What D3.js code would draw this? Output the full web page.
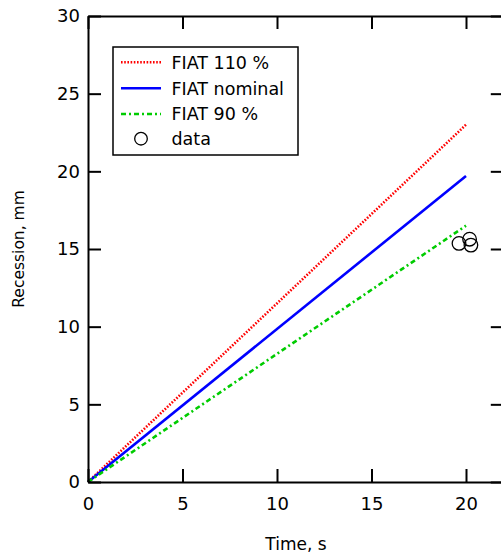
<!DOCTYPE html>
<html>
<head>
<meta charset="utf-8">
<script src="https://cdn.jsdelivr.net/npm/d3@7"></script>
<style>
  html, body { margin: 0; padding: 0; background: #fff; }
  svg { display: block; }
  text { font-family: "DejaVu Sans", sans-serif; fill: #000; }
</style>
</head>
<body>
<svg id="chart" width="501" height="554"></svg>
<script>
// Model curves: recession vs time (start and end points of each straight line)
const timeEnds = [0, 20];
const fiat110 = [0, 23.0];
const fiatNominal = [0, 19.7];
const fiat90 = [0, 16.5];

// Measured recession at end of test
const dataTime = [19.63, 20.19, 20.26];
const dataRecession = [15.36, 15.63, 15.25];

const xTicks = [0, 5, 10, 15, 20];
const yTicks = [0, 5, 10, 15, 20, 25, 30];

const series = [
  { name: "FIAT 110 %", values: fiat110, color: "#ff0000", dash: "1.6,1.6", width: 2.6 },
  { name: "FIAT nominal", values: fiatNominal, color: "#0000ff", dash: null, width: 2.6 },
  { name: "FIAT 90 %", values: fiat90, color: "#00cc00", dash: "5,3,2,3", width: 2.6 }
];

const svg = d3.select("#chart");
const x = d3.scaleLinear().domain([0, 22]).range([88, 503.8]);
const y = d3.scaleLinear().domain([0, 30]).range([482, 16]);

const tickLen = 13;

// Lines
const line = d3.line().x(d => x(d[0])).y(d => y(d[1]));
series.forEach(s => {
  const pts = timeEnds.map((t, i) => [t, s.values[i]]);
  svg.append("path")
    .attr("d", line(pts))
    .attr("fill", "none")
    .attr("stroke", s.color)
    .attr("stroke-width", s.width)
    .attr("stroke-dasharray", s.dash);
});

// Data points
svg.append("g").selectAll("circle")
  .data(dataTime.map((t, i) => [t, dataRecession[i]]))
  .join("circle")
  .attr("cx", d => x(d[0]))
  .attr("cy", d => y(d[1]))
  .attr("r", 6.8)
  .attr("fill", "none")
  .attr("stroke", "#000")
  .attr("stroke-width", 1.3);

// Axes: ticks point inward on all four sides
const axisStyle = g => {
  g.selectAll(".domain").attr("stroke", "#000").attr("stroke-width", 2);
  g.selectAll(".tick line").attr("stroke", "#000").attr("stroke-width", 2);
  g.selectAll(".tick text")
    .style("font-family", "'DejaVu Sans', sans-serif")
    .style("font-size", "18px")
    .attr("fill", "#000");
};

svg.append("g")
  .attr("transform", `translate(0,${y(0)})`)
  .call(d3.axisBottom(x).tickValues(xTicks).tickSizeInner(-tickLen).tickSizeOuter(0).tickPadding(15))
  .call(axisStyle);

svg.append("g")
  .attr("transform", `translate(0,${y(30)})`)
  .call(d3.axisTop(x).tickValues(xTicks).tickSizeInner(-tickLen).tickSizeOuter(0).tickFormat(""))
  .call(axisStyle);

svg.append("g")
  .attr("transform", `translate(${x(0)},0)`)
  .call(d3.axisLeft(y).tickValues(yTicks).tickSizeInner(-tickLen).tickSizeOuter(0).tickPadding(8))
  .call(axisStyle);

svg.append("g")
  .attr("transform", `translate(${x(22)},0)`)
  .call(d3.axisRight(y).tickValues(yTicks).tickSizeInner(-tickLen).tickSizeOuter(0).tickFormat(""))
  .call(axisStyle);

// Axis titles
svg.append("text")
  .attr("x", 296).attr("y", 550)
  .attr("text-anchor", "middle")
  .style("font-size", "17px")
  .text("Time, s");

svg.append("text")
  .attr("transform", "translate(24,249) rotate(-90)")
  .attr("text-anchor", "middle")
  .style("font-size", "15.5px")
  .text("Recession, mm");

// Legend
const legend = svg.append("g");
legend.append("rect")
  .attr("x", 113).attr("y", 47)
  .attr("width", 185).attr("height", 108)
  .attr("fill", "#fff")
  .attr("stroke", "#000")
  .attr("stroke-width", 1.5);

const rowY = [62.3, 88.3, 114, 138.7];
series.forEach((s, i) => {
  legend.append("line")
    .attr("x1", 121).attr("x2", 161)
    .attr("y1", rowY[i]).attr("y2", rowY[i])
    .attr("stroke", s.color)
    .attr("stroke-width", s.width)
    .attr("stroke-dasharray", s.dash);
  legend.append("text")
    .attr("x", 171.5).attr("y", rowY[i])
    .attr("dy", "0.36em")
    .style("font-size", "17.5px")
    .text(s.name);
});
legend.append("circle")
  .attr("cx", 141).attr("cy", rowY[3])
  .attr("r", 6.3)
  .attr("fill", "none")
  .attr("stroke", "#000")
  .attr("stroke-width", 1.3);
legend.append("text")
  .attr("x", 171.5).attr("y", rowY[3])
  .attr("dy", "0.36em")
  .style("font-size", "17.5px")
  .text("data");
</script>
</body>
</html>
